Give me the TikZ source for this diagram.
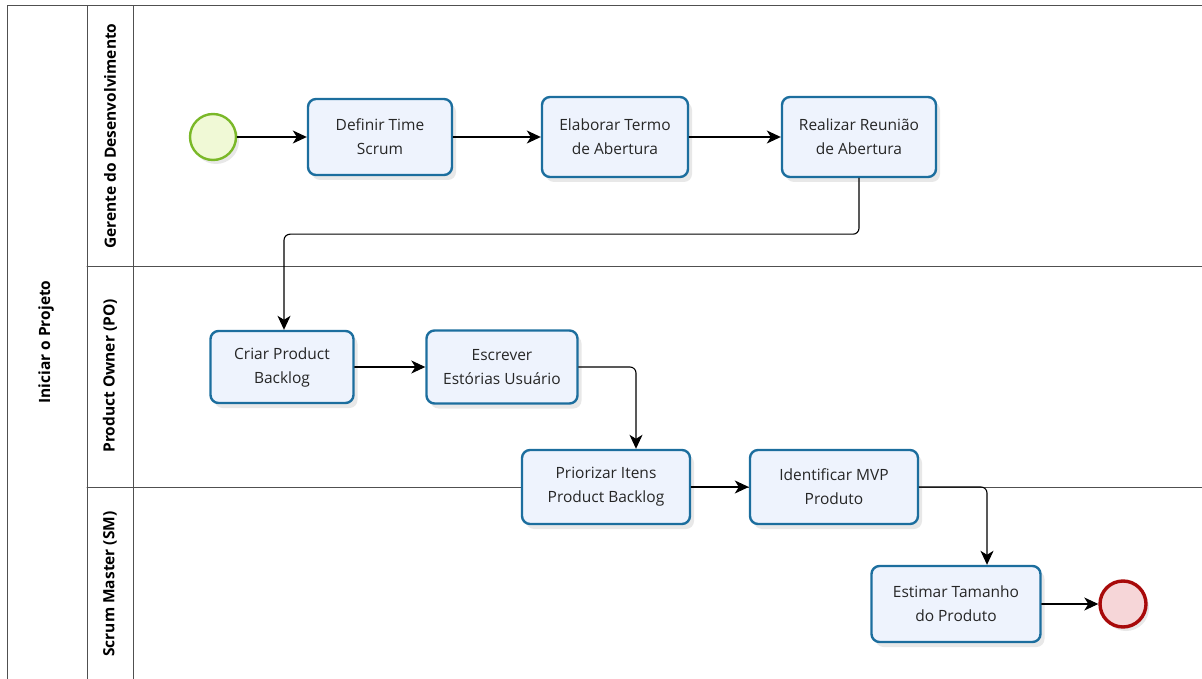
\documentclass[tikz,border=0pt]{standalone}
\usepackage{fontspec}
\setmainfont{Open Sans}
\usetikzlibrary{arrows.meta,calc,positioning,shadows}
\definecolor{taskblue}{RGB}{28,110,158}
\definecolor{taskfill}{RGB}{238,243,253}
\definecolor{startgreen}{RGB}{122,184,40}
\definecolor{startfill}{RGB}{240,249,214}
\definecolor{endred}{RGB}{168,10,10}
\definecolor{endfill}{RGB}{246,214,216}
\definecolor{laneline}{RGB}{80,80,80}
\tikzset{
  every node/.style={font=\fontsize{15.5pt}{24pt}\selectfont, text=black!85},
  lane/.style={draw=laneline, line width=1pt},
  lanelabel/.style={rotate=90, font=\fontsize{15.5pt}{18pt}\selectfont\bfseries, text=black},
  task/.style={draw=taskblue, fill=taskfill, line width=2.4pt, rounded corners=8pt,
    align=center, inner sep=0pt,
    drop shadow={opacity=0.18, shadow xshift=4pt, shadow yshift=-5pt}},
  startev/.style={circle, draw=startgreen, fill=startfill, line width=2.4pt,
    minimum size=46pt, inner sep=0pt,
    drop shadow={opacity=0.18, shadow xshift=3pt, shadow yshift=-4pt}},
  endev/.style={circle, draw=endred, fill=endfill, line width=3.4pt,
    minimum size=46pt, inner sep=0pt,
    drop shadow={opacity=0.18, shadow xshift=3pt, shadow yshift=-4pt}},
  flow/.style={draw=black, line width=1.1pt, rounded corners=6pt,
    -{Stealth[length=14pt, width=13pt, inset=4pt]}}
}

\begin{document}
\begin{tikzpicture}[x=1pt, y=-1pt, line cap=round, line join=round]
  \useasboundingbox (0,0) rectangle (1202,679);

  % pool and lanes
  \draw[lane] (7,679) -- (7,6) -- (1202,6);
  \draw[lane] (87,6) -- (87,679);
  \draw[lane] (133,6) -- (133,679);
  \draw[lane] (87,266) -- (1202,266);
  \draw[lane] (87,487) -- (1202,487);

  \node[lanelabel] (pool) at (46,342) {Iniciar o Projeto};
  \node[lanelabel] (gerente) at (110,136) {Gerente do Desenvolvimento};
  \node[lanelabel] (po) at (110,376) {Product Owner (PO)};
  \node[lanelabel] (sm) at (110,584) {Scrum Master (SM)};

  % events and tasks
  \node[startev] (inicio) at (213,137) {};
  \node[task, minimum width=144pt, minimum height=76pt] (definir) at (380,137)
    {Definir Time\\Scrum};
  \node[task, minimum width=146pt, minimum height=80pt] (elaborar) at (615,137)
    {Elaborar Termo\\de Abertura};
  \node[task, minimum width=154pt, minimum height=80pt] (realizar) at (859,137)
    {Realizar Reunião\\de Abertura};
  \node[task, minimum width=143pt, minimum height=72pt] (criar) at (282,367)
    {Criar Product\\Backlog};
  \node[task, minimum width=151pt, minimum height=73pt] (escrever) at (502,367)
    {Escrever\\Estórias Usuário};
  \node[task, minimum width=168pt, minimum height=74pt] (priorizar) at (606,487)
    {Priorizar Itens\\Product Backlog};
  \node[task, minimum width=168pt, minimum height=74pt] (identificar) at (834,487)
    {Identificar MVP\\Produto};
  \node[task, minimum width=169pt, minimum height=76pt] (estimar) at (956,604)
    {Estimar Tamanho\\do Produto};
  \node[endev] (fim) at (1123,604) {};

  % sequence flows
  \draw[flow] (inicio) -- (definir);
  \draw[flow] (definir) -- (elaborar);
  \draw[flow] (elaborar) -- (realizar);
  \draw[flow] (realizar.south) -- ++(0,56) -| ([xshift=2pt]criar.north);
  \draw[flow] (criar) -- (escrever);
  \draw[flow] (escrever.east) -| ([xshift=30pt]priorizar.north);
  \draw[flow] (priorizar) -- (identificar);
  \draw[flow] (identificar.east) -| ([xshift=31pt]estimar.north);
  \draw[flow] (estimar) -- (fim);
\end{tikzpicture}
\end{document}
